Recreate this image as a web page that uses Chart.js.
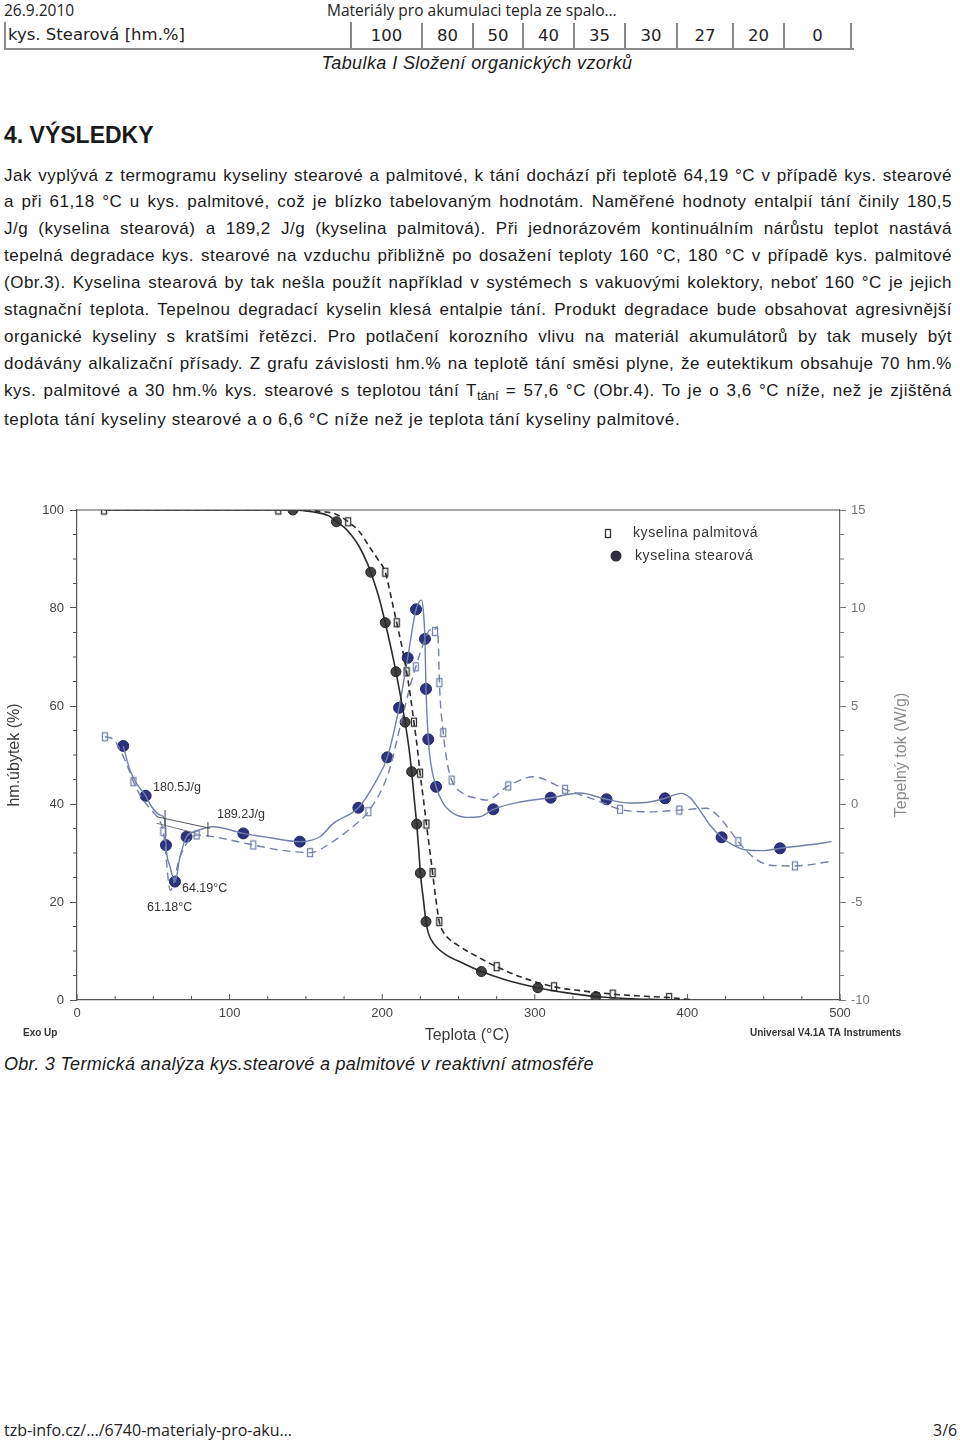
<!DOCTYPE html>
<html lang="cs">
<head>
<meta charset="utf-8">
<script src="https://cdn.jsdelivr.net/npm/chart.js@4.4.1/dist/chart.umd.min.js"></script>
<style>
  html, body { margin:0; padding:0; background:#fff; }
  #page { position:relative; width:960px; height:1443px; overflow:hidden; color:#1a1a1a; font-family:"Liberation Sans", Arial, sans-serif; }
  .abs { position:absolute; white-space:nowrap; }
  .hdr { font-family:"Open Sans", "Noto Sans", sans-serif; font-size:15.5px; color:#222; line-height:20px; }
  .cell { position:absolute; top:23px; height:26px; line-height:26px; font-family:"DejaVu Sans", Verdana, sans-serif; font-size:16.5px; color:#222; text-align:center; border-right:2px solid #8a8a8a; box-sizing:border-box; }
  .jl { position:absolute; left:4px; width:948px; font-size:17px; letter-spacing:0.5px; line-height:20px; text-align:justify; text-align-last:justify; color:#1a1a1a; }
  .jl.last { text-align-last:left; letter-spacing:0.62px; }
  sub { font-size:13px; vertical-align:-4px; line-height:0; letter-spacing:0; }
  #chartWrap { position:absolute; left:0; top:490px; width:960px; height:560px; }
</style>
</head>
<body>
<div id="page">
  <div class="abs hdr" style="left:4px; top:0px;">26.9.2010</div>
  <div class="abs hdr" style="left:327px; top:0px;">Materiály pro akumulaci tepla ze spalo…</div>

  <div style="position:absolute; left:4px; top:22px; width:848px; height:26px; border-left:2px solid #8a8a8a; border-bottom:2px solid #8a8a8a; box-sizing:content-box;"></div>
  <div class="cell" style="left:6px; width:346px; text-align:left; padding-left:2px; top:22px;">kys. Stearová [hm.%]</div>
  <div class="cell" style="left:352px; width:71px;">100</div>
  <div class="cell" style="left:423px; width:51px;">80</div>
  <div class="cell" style="left:474px; width:50px;">50</div>
  <div class="cell" style="left:524px; width:51px;">40</div>
  <div class="cell" style="left:575px; width:51px;">35</div>
  <div class="cell" style="left:626px; width:52px;">30</div>
  <div class="cell" style="left:678px; width:56px;">27</div>
  <div class="cell" style="left:734px; width:51px;">20</div>
  <div class="cell" style="left:785px; width:67px;">0</div>

  <div class="abs" style="left:0; width:954px; top:52px; text-align:center; font-style:italic; font-size:18px; letter-spacing:0.4px; line-height:22px;">Tabulka I Složení organických vzorků</div>

  <div class="abs" style="left:4px; top:120px; font-size:23px; font-weight:bold; line-height:30px;">4. VÝSLEDKY</div>

  <div class="jl" style="top:166px;">Jak vyplývá z termogramu kyseliny stearové a palmitové, k tání dochází při teplotě 64,19 °C v případě kys. stearové</div>
  <div class="jl" style="top:192px;">a při 61,18 °C u kys. palmitové, což je blízko tabelovaným hodnotám. Naměřené hodnoty entalpií tání činily 180,5</div>
  <div class="jl" style="top:219px;">J/g (kyselina stearová) a 189,2 J/g (kyselina palmitová). Při jednorázovém kontinuálním nárůstu teplot nastává</div>
  <div class="jl" style="top:246px;">tepelná degradace kys. stearové na vzduchu přibližně po dosažení teploty 160 °C, 180 °C v případě kys. palmitové</div>
  <div class="jl" style="top:273px;">(Obr.3). Kyselina stearová by tak nešla použít například v systémech s vakuovými kolektory, neboť 160 °C je jejich</div>
  <div class="jl" style="top:300px;">stagnační teplota. Tepelnou degradací kyselin klesá entalpie tání. Produkt degradace bude obsahovat agresivnější</div>
  <div class="jl" style="top:327px;">organické kyseliny s kratšími řetězci. Pro potlačení korozního vlivu na materiál akumulátorů by tak musely být</div>
  <div class="jl" style="top:354px;">dodávány alkalizační přísady. Z grafu závislosti hm.% na teplotě tání směsi plyne, že eutektikum obsahuje 70 hm.%</div>
  <div class="jl" style="top:381px;">kys. palmitové a 30 hm.% kys. stearové s teplotou tání T<sub>tání</sub> = 57,6 °C (Obr.4). To je o 3,6 °C níže, než je zjištěná</div>
  <div class="jl last" style="top:410px;">teplota tání kyseliny stearové a o 6,6 °C níže než je teplota tání kyseliny palmitové.</div>

  <div id="chartWrap"><canvas id="c" width="960" height="560"></canvas></div>

  <div class="abs" style="left:4px; top:1053px; font-style:italic; font-size:18px; letter-spacing:0.3px; line-height:22px;">Obr. 3 Termická analýza kys.stearové a palmitové v reaktivní atmosféře</div>

  <div class="abs hdr" style="left:4px; top:1420px; font-size:16px;">tzb-info.cz/…/6740-materialy-pro-aku…</div>
  <div class="abs hdr" style="left:933px; top:1420px; font-size:16px;">3/6</div>
</div>

<script>
// ---- DATA ----
// TGA, mass loss (%) - left axis
const stearTgaX = [20, 100, 140, 155, 165, 170, 175, 180, 185, 190, 192.5, 198, 202, 206, 209, 212, 215, 217.5, 219.3, 221, 222.6, 224, 225, 227, 228.7, 230.2, 233.5, 242, 253, 265, 280, 302, 320, 340, 360, 380, 395];
const stearTgaY = [100, 100, 100, 99.6, 98.8, 97.6, 96.5, 94.8, 92.5, 89.3, 87.3, 82, 77, 71.5, 67, 62, 56.7, 51.5, 46.6, 41, 35.9, 30.5, 25.9, 20.5, 16, 13.7, 11.6, 9.2, 7.5, 5.8, 4.2, 2.5, 1.5, 0.7, 0.3, 0.1, 0];
const stearTgaMarkX = [141.5, 170, 192.5, 202, 209, 215, 219.3, 222.6, 225, 228.7, 265, 302, 340];
const stearTgaMarkY = [100, 97.6, 87.3, 77, 67, 56.7, 46.6, 35.9, 25.9, 16, 5.8, 2.5, 0.7];

const palmTgaX = [18, 100, 131.9, 160, 170, 177.7, 185, 192, 197, 202, 206, 209.5, 213, 216, 218.5, 220.8, 223, 224.8, 227, 229, 231, 233, 235, 237.4, 240, 244, 249, 255, 262, 275, 290, 312.6, 330, 351, 370, 388, 404];
const palmTgaY = [100, 100, 100, 99.7, 99.1, 97.6, 95.6, 92.3, 90, 87.3, 82, 77, 72, 67, 62, 56.7, 51.5, 46.3, 41, 35.9, 31, 26, 21, 16, 13.9, 12.4, 11.3, 10.1, 8.9, 6.8, 4.8, 2.7, 1.9, 1.2, 0.8, 0.5, 0];
const palmTgaMarkX = [17.7, 131.9, 177.7, 202, 209.5, 216, 220.8, 224.8, 229, 233, 237.4, 275, 312.6, 351, 388];
const palmTgaMarkY = [100, 100, 97.6, 87.3, 77, 67, 56.7, 46.3, 35.9, 26, 16, 6.8, 2.7, 1.2, 0.5];

// DSC, heat flow (W/g) - right axis
const stearDscX = [30.3, 34.7, 39, 45, 48.9, 54.4, 57.6, 58.3, 61, 64.2, 67.5, 71.8, 77.3, 89.3, 109, 128.6, 146, 159.2, 168, 184.4, 196.3, 203.3, 211, 216.7, 222.2, 225.8, 227, 228, 228.7, 230.2, 232, 235.3, 240, 246.6, 255.4, 264, 272.8, 290, 310.4, 329.6, 347, 362.3, 375, 385.3, 396, 402, 408, 415, 422.4, 430, 438.7, 450, 460.7, 480, 494.5];
const stearDscY = [2.96, 1.73, 1.05, 0.42, -0.14, -0.56, -0.82, -2.1, -3.2, -3.96, -2.7, -1.67, -1.41, -1.16, -1.5, -1.75, -1.92, -1.67, -0.99, -0.19, 1.22, 2.38, 4.91, 7.46, 9.93, 10.4, 9.8, 8.42, 5.87, 3.3, 2.0, 0.88, 0.03, -0.48, -0.68, -0.65, -0.27, 0.1, 0.32, 0.56, 0.24, 0.05, 0.1, 0.29, 0.54, 0.3, -0.31, -1.1, -1.7, -2.1, -2.35, -2.38, -2.26, -2.08, -1.92];
const stearDscMarkX = [30.3, 45, 58.3, 64.2, 71.8, 109, 146, 184.4, 203.3, 211, 216.7, 222.2, 228, 228.7, 230.2, 235.3, 272.8, 310.4, 347, 385.3, 422.4, 460.7];
const stearDscMarkY = [2.96, 0.42, -2.1, -3.96, -1.67, -1.5, -1.92, -0.19, 2.38, 4.91, 7.46, 9.93, 8.42, 5.87, 3.3, 0.88, -0.27, 0.32, 0.24, 0.29, -1.7, -2.26];

const palmDscX = [18.3, 23.8, 29.3, 33.6, 37, 41.3, 46.7, 54.4, 56.6, 61.2, 67.5, 78.4, 89.3, 115.5, 133, 152.7, 168, 180, 190.9, 204, 212.8, 218.2, 222, 228, 231.3, 233.5, 236, 236.8, 237.5, 240, 242.3, 245.5, 253, 262, 268.4, 282.6, 299, 319.8, 340, 355.8, 375, 394.7, 412.6, 420, 433.4, 440, 449.8, 460, 470.5, 493.4];
const palmDscY = [3.43, 3.3, 2.59, 1.82, 1.14, 0.46, -0.14, -0.9, -1.41, -4.4, -2.69, -1.58, -1.67, -2.09, -2.35, -2.48, -1.9, -1.2, -0.39, 1.57, 4.29, 5.99, 7.0, 8.37, 8.88, 8.8, 9.05, 8.2, 6.19, 3.64, 2.24, 1.22, 0.54, 0.29, 0.2, 0.92, 1.39, 0.75, 0.2, -0.27, -0.4, -0.31, -0.22, -0.6, -1.92, -2.5, -3.03, -3.15, -3.16, -2.94];
const palmDscMarkX = [18.3, 37, 56.6, 78.4, 115.5, 152.7, 190.9, 222, 234.6, 237.5, 240, 245.5, 282.6, 319.8, 355.8, 394.7, 433.4, 470.5];
const palmDscMarkY = [3.43, 1.14, -1.41, -1.58, -2.09, -2.48, -0.39, 7.0, 8.8, 6.19, 3.64, 1.22, 0.92, 0.75, -0.27, -0.31, -1.92, -3.16];

// integration baselines of the melting peaks (W/g)
const baseStearX = [52.2, 87.2];
const baseStearY = [-0.65, -1.24];
const basePalmX = [52.2, 78.4];
const basePalmY = [-0.98, -1.5];

const seriesNames = ['kyselina palmitová', 'kyselina stearová'];
const peakLabels = ['180.5J/g', '189.2J/g', '64.19°C', '61.18°C'];
const xTitle = 'Teplota (°C)';
const yTitle = 'hm.úbytek (%)';
const y2Title = 'Tepelný tok (W/g)';

// ---- helpers ----
const pts = (xs, ys) => xs.map((x, i) => ({x: x, y: ys[i]}));
function rectMarker(stroke) {
  const c = document.createElement('canvas');
  c.width = 8; c.height = 11;
  const g = c.getContext('2d');
  g.fillStyle = '#fff'; g.fillRect(1, 1, 6, 9);
  g.strokeStyle = stroke; g.lineWidth = 1.3;
  g.strokeRect(1.5, 1.5, 5, 8);
  return c;
}
const sqBlack = rectMarker('#333');
const sqBlue = rectMarker('#7785ad');

const TGA_COL = '#2b2b2b';
const DSC_COL = '#7280aa';
const NAVY = '#2c3180';

function lineDs(data, color, dash, axis, width) {
  return { data: data, showLine: true, borderColor: color, borderWidth: width, borderDash: dash,
           pointRadius: 0, pointHoverRadius: 0, fill: false, cubicInterpolationMode: 'monotone', yAxisID: axis };
}
function markDs(data, style, fillc, strokec, r, axis) {
  return { data: data, showLine: false, pointStyle: style, pointRadius: r, pointBackgroundColor: fillc,
           pointBorderColor: strokec, pointBorderWidth: 1, yAxisID: axis };
}

const decor = {
  id: 'decor',
  afterDraw(chart) {
    const ctx = chart.ctx, a = chart.chartArea;
    const sx = chart.scales.x, sy = chart.scales.y, s2 = chart.scales.y2;
    ctx.save();
    // frame top line
    ctx.strokeStyle = '#555'; ctx.lineWidth = 1.2;
    ctx.beginPath(); ctx.moveTo(a.left, a.top); ctx.lineTo(a.right, a.top); ctx.stroke();
    // minor ticks
    ctx.lineWidth = 1;
    for (let v = 0; v <= 500; v += 25) {
      const px = sx.getPixelForValue(v);
      ctx.beginPath(); ctx.moveTo(px, a.bottom); ctx.lineTo(px, a.bottom - (v % 100 === 0 ? 6 : 4)); ctx.stroke();
    }
    for (let v = 0; v <= 100; v += 5) {
      if (v % 20 === 0) continue;
      const py = sy.getPixelForValue(v);
      ctx.beginPath(); ctx.moveTo(a.left, py); ctx.lineTo(a.left - 4, py); ctx.stroke();
    }
    ctx.strokeStyle = '#777';
    for (let v = -10; v <= 15; v += 1.25) {
      if (Math.abs(v % 5) < 1e-6) continue;
      const py = s2.getPixelForValue(v);
      ctx.beginPath(); ctx.moveTo(a.right, py); ctx.lineTo(a.right + 4, py); ctx.stroke();
    }
    // baseline end marks
    ctx.strokeStyle = '#444';
    [[57.7, -0.31, -1.17], [85.8, -0.92, -1.68]].forEach(m => {
      const px = sx.getPixelForValue(m[0]);
      ctx.beginPath(); ctx.moveTo(px, s2.getPixelForValue(m[1])); ctx.lineTo(px, s2.getPixelForValue(m[2])); ctx.stroke();
    });
    // axis titles
    ctx.fillStyle = '#3a3a3a';
    ctx.font = '16px "Liberation Sans", Arial, sans-serif';
    ctx.textAlign = 'center'; ctx.textBaseline = 'middle';
    ctx.fillText(xTitle, 467, a.bottom + 36);
    ctx.save(); ctx.translate(15, (a.top + a.bottom) / 2); ctx.rotate(-Math.PI / 2);
    ctx.fillText(yTitle, 0, 0); ctx.restore();
    ctx.fillStyle = '#8a8a8a';
    ctx.save(); ctx.translate(902, (a.top + a.bottom) / 2); ctx.rotate(-Math.PI / 2);
    ctx.fillText(y2Title, 0, 0); ctx.restore();
    // corner notes
    ctx.fillStyle = '#333';
    ctx.font = 'bold 10px "Liberation Sans", Arial, sans-serif';
    ctx.textAlign = 'left';
    ctx.fillText('Exo Up', 23, a.bottom + 33);
    ctx.fillText('Universal V4.1A TA Instruments', 750, a.bottom + 33, 170);
    // peak annotations (anchored in data coordinates)
    ctx.font = '12.5px "Liberation Sans", Arial, sans-serif';
    ctx.fillStyle = '#333';
    const ann = [[49.8, 0.82], [91.7, -0.56], [68.8, -4.29], [45.9, -5.26]];
    ann.forEach((p, i) => ctx.fillText(peakLabels[i], sx.getPixelForValue(p[0]), s2.getPixelForValue(p[1])));
    // legend (canvas coordinates; canvas top is page y=490)
    ctx.font = '14px "Liberation Sans", Arial, sans-serif';
    ctx.fillStyle = '#333';
    try { ctx.letterSpacing = '0.6px'; } catch (e) {}
    ctx.drawImage(sqBlack, 604, 38);
    ctx.fillText(seriesNames[0], 633, 43);
    ctx.beginPath(); ctx.arc(616, 66, 5.5, 0, Math.PI * 2); ctx.fillStyle = '#2e2e3e'; ctx.fill();
    ctx.fillStyle = '#333';
    ctx.fillText(seriesNames[1], 635, 66);
    ctx.restore();
  }
};

new Chart(document.getElementById('c'), {
  type: 'scatter',
  data: {
    datasets: [
      lineDs(pts(baseStearX, baseStearY), '#555', [], 'y2', 1),
      lineDs(pts(basePalmX, basePalmY), '#777', [], 'y2', 1),
      lineDs(pts(palmTgaX, palmTgaY), TGA_COL, [6, 4], 'y', 1.6),
      lineDs(pts(stearTgaX, stearTgaY), TGA_COL, [], 'y', 1.6),
      lineDs(pts(palmDscX, palmDscY), DSC_COL, [8, 5], 'y2', 1.4),
      lineDs(pts(stearDscX, stearDscY), DSC_COL, [], 'y2', 1.4),
      markDs(pts(palmTgaMarkX, palmTgaMarkY), sqBlack, '#fff', '#333', 5, 'y'),
      markDs(pts(stearTgaMarkX, stearTgaMarkY), 'circle', '#444', '#222', 5, 'y'),
      markDs(pts(palmDscMarkX, palmDscMarkY), sqBlue, '#fff', '#7785ad', 5, 'y2'),
      markDs(pts(stearDscMarkX, stearDscMarkY), 'circle', NAVY, '#23276a', 5.5, 'y2')
    ]
  },
  options: {
    responsive: false,
    animation: false,
    events: [],
    layout: { padding: { top: 20, right: 0, left: 0, bottom: 0 } },
    plugins: { legend: { display: false }, tooltip: { enabled: false } },
    scales: {
      x: {
        type: 'linear', position: 'bottom', min: 0, max: 500,
        ticks: { stepSize: 100, color: '#444', font: { size: 13, family: '"Liberation Sans", Arial' }, padding: 6, maxRotation: 0 },
        grid: { display: false, drawTicks: false },
        border: { display: true, color: '#555', width: 1.2 },
        afterFit(s) { s.height = 50; }
      },
      y: {
        position: 'left', min: 0, max: 100,
        ticks: { stepSize: 20, color: '#444', font: { size: 13, family: '"Liberation Sans", Arial' }, padding: 6 },
        grid: { drawOnChartArea: false, drawTicks: true, tickLength: 7, color: '#555' },
        border: { display: true, color: '#555', width: 1.2 },
        afterFit(s) { s.width = 77; }
      },
      y2: {
        position: 'right', min: -10, max: 15,
        ticks: { stepSize: 5, color: '#777', font: { size: 13, family: '"Liberation Sans", Arial' }, padding: 5 },
        grid: { drawOnChartArea: false, drawTicks: true, tickLength: 6, color: '#777' },
        border: { display: true, color: '#666', width: 1.2 },
        afterFit(s) { s.width = 120; }
      }
    }
  },
  plugins: [decor]
});
</script>
</body>
</html>
